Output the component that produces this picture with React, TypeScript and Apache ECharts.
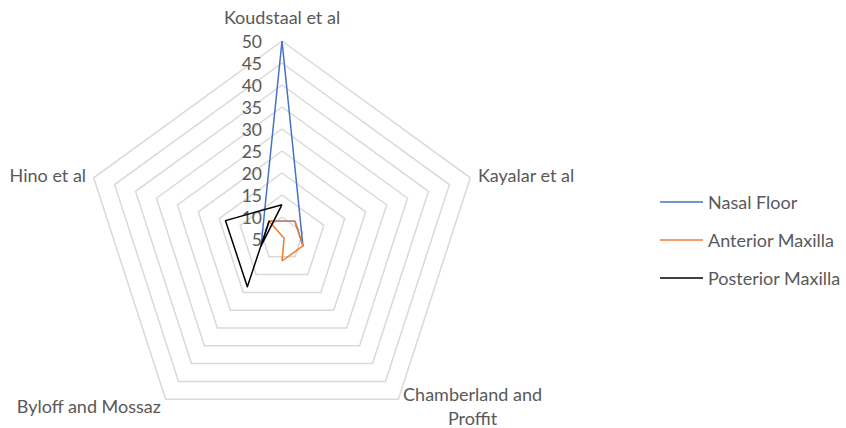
import React, { useEffect, useRef } from "react";
import * as echarts from "echarts";

// Categories in clockwise order starting at the top (as in the reference)
const indicatorNames = [
  "Koudstaal et al",
  "Kayalar et al",
  "Chamberland and\nProffit",
  "Byloff and Mossaz",
  "Hino et al",
];
const axisMin = 5;
const axisMax = 50;
const splitCount = 9;

const seriesNames = ["Nasal Floor", "Anterior Maxilla", "Posterior Maxilla"];
const nasalFloor = [50, 0, 0, 0, 0];
const anteriorMaxilla = [0, 5.5, 0, 0, 0];
const posteriorMaxilla = [12.8, 0, 0, 18.4, 18.5];
const seriesColors = ["#4472C4", "#ED7D31", "#000000"];

// ECharts lays indicators out counter-clockwise; this maps them to clockwise.
const drawOrder = [0, 4, 3, 2, 1];

const FONT = "Lato";
const TEXT_COLOR = "#595959";

export default function App() {
  const ref = useRef<HTMLDivElement>(null);
  useEffect(() => {
    if (!ref.current) return;
    const chart = echarts.init(ref.current, null, { renderer: "svg" });
    const values = [nasalFloor, anteriorMaxilla, posteriorMaxilla];
    chart.setOption({
      animation: false,
      backgroundColor: "#ffffff",
      textStyle: { fontFamily: FONT },
      legend: {
        orient: "vertical",
        left: 655,
        top: 188,
        itemWidth: 43,
        itemHeight: 1.5,
        itemGap: 20,
        icon: "rect",
        data: seriesNames,
        textStyle: { fontFamily: FONT, fontSize: 18, color: TEXT_COLOR },
      },
      radar: {
        center: [282, 239],
        radius: 198,
        startAngle: 90,
        shape: "polygon",
        splitNumber: splitCount,
        axisLine: { show: false },
        axisTick: { show: false },
        axisLabel: {
          show: false,
          fontFamily: FONT,
          fontSize: 17.5,
          color: TEXT_COLOR,
          margin: 20,
        },
        splitLine: { lineStyle: { color: "#D9D9D9", width: 1.5 } },
        splitArea: { show: false },
        nameGap: 8,
        axisName: {
          color: TEXT_COLOR,
          fontFamily: FONT,
          fontSize: 18,
          lineHeight: 24,
          formatter: (name: string) => {
            const lines = name.split("\n");
            if (lines.length === 1) return name;
            return lines[0] + "\n" + lines.slice(1).map((l) => "{c|" + l + "}").join("\n");
          },
          rich: {
            c: { align: "center", fontFamily: FONT, fontSize: 18, color: TEXT_COLOR, lineHeight: 24 },
          },
        },
        indicator: drawOrder.map((k) => ({
          name: indicatorNames[k],
          min: axisMin,
          max: axisMax,
          ...(k === 0 ? { axisLabel: { show: true }, nameGap: 12 } : {}),
        })),
      },
      series: [
        {
          type: "radar",
          symbol: "none",
          data: seriesNames.map((n, i) => ({
            name: n,
            value: drawOrder.map((k) => values[i][k]),
            lineStyle: { color: seriesColors[i], width: 1.5 },
            itemStyle: { color: seriesColors[i] },
          })),
        },
      ],
    });
    return () => chart.dispose();
  }, []);
  return (
    <div
      ref={ref}
      style={{ position: "fixed", left: 0, top: 0, width: 846, height: 428, background: "#fff" }}
    />
  );
}
